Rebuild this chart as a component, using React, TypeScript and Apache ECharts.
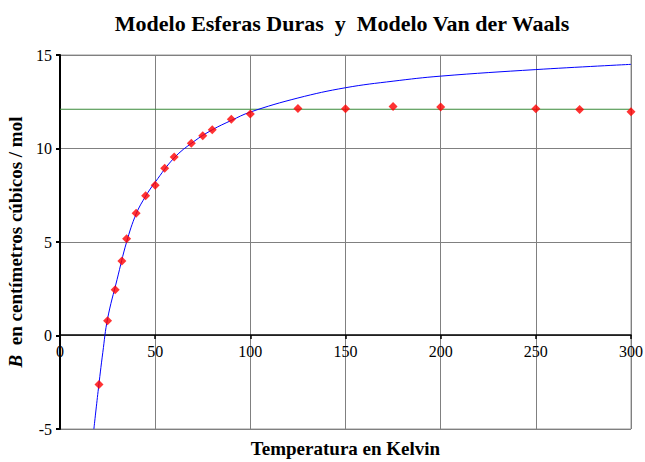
import React, { useEffect, useRef } from "react";
import * as echarts from "echarts";

const titleText = "Modelo Esferas Duras  y  Modelo Van der Waals";
const xAxisName = "Temperatura en Kelvin";
const yAxisUnit = "  en centímetros cúbicos / mol";

// Van der Waals curve (T in K, B in cm³/mol)
const vdwCurve: [number, number][] = [
  [17.8, -5.0], [20, -3.0], [22.5, -0.9], [25, 0.9], [30, 3.0], [35, 5.0],
  [40, 6.5], [45, 7.45], [50, 8.2], [60, 9.5], [70, 10.35], [80, 11.0],
  [90, 11.5], [100, 11.95], [125, 12.7], [150, 13.25], [175, 13.6],
  [200, 13.87], [250, 14.22], [300, 14.5],
];

// Hard-spheres model: constant line
const hardSpheres: [number, number][] = [[0, 12.1], [300, 12.1]];

// Red diamond data points
const dataPoints: [number, number][] = [
  [20.5, -2.62], [25, 0.79], [29, 2.45], [32.5, 3.98], [35, 5.17], [40, 6.54],
  [45, 7.47], [50, 8.04], [55, 8.95], [60, 9.54], [69, 10.28], [75, 10.68],
  [80, 11.0], [90, 11.57], [100, 11.84], [125, 12.14], [150, 12.12],
  [175, 12.24], [200, 12.22], [250, 12.12], [273, 12.08], [300, 11.97],
];

const serif = "'Liberation Serif', 'Times New Roman', serif";

export default function App() {
  const ref = useRef<HTMLDivElement>(null);
  useEffect(() => {
    if (!ref.current) return;
    const chart = echarts.init(ref.current, null, { renderer: "svg" });
    chart.setOption({
      animation: false,
      backgroundColor: "#ffffff",
      title: {
        text: titleText,
        left: 337,
        top: 7,
        textAlign: "center",
        textStyle: { fontFamily: serif, fontSize: 22, fontWeight: "bold", color: "#000" },
      },
      grid: {
        left: 60,
        right: 14,
        top: 55,
        bottom: 33,
        show: true,
        borderColor: "#999999",
        borderWidth: 1,
        outerBoundsMode: "none",
        containLabel: false,
      },
      xAxis: {
        type: "value",
        min: 0,
        max: 300,
        interval: 50,
        offset: -94,
        name: xAxisName,
        nameLocation: "middle",
        nameGap: 104,
        nameTextStyle: { fontFamily: serif, fontSize: 19, fontWeight: "bold", color: "#000" },
        axisLine: { onZero: false, lineStyle: { color: "#000", width: 1.5 } },
        axisTick: { show: true, inside: false, length: 4, lineStyle: { color: "#000", width: 1.5 } },
        axisLabel: { fontFamily: serif, fontSize: 16, color: "#000", margin: 8 },
        splitLine: { show: true, lineStyle: { color: "#808080", width: 1 } },
      },
      yAxis: {
        type: "value",
        min: -5,
        max: 15,
        interval: 5,
        name: "{b|B}{n|" + yAxisUnit + "}",
        nameLocation: "middle",
        nameRotate: 90,
        nameGap: 30,
        nameTextStyle: {
          rich: {
            b: { fontFamily: serif, fontSize: 19, fontWeight: "bold", fontStyle: "italic", color: "#000" },
            n: { fontFamily: serif, fontSize: 19, fontWeight: "bold", color: "#000" },
          },
        },
        axisLine: { show: true, onZero: false, lineStyle: { color: "#000", width: 2 } },
        axisTick: { show: true, inside: false, length: 4, lineStyle: { color: "#000", width: 2 } },
        axisLabel: { fontFamily: serif, fontSize: 16, color: "#000", margin: 8 },
        splitLine: { show: true, lineStyle: { color: "#808080", width: 1 } },
      },
      series: [
        {
          type: "line",
          data: hardSpheres,
          showSymbol: false,
          symbol: "none",
          lineStyle: { color: "#3a8a3a", width: 1.2 },
          z: 2,
        },
        {
          type: "line",
          data: vdwCurve,
          smooth: 0.4,
          showSymbol: false,
          symbol: "none",
          lineStyle: { color: "#0000ff", width: 1 },
          z: 3,
        },
        {
          type: "scatter",
          data: dataPoints,
          symbol: "diamond",
          symbolSize: [9, 9],
          itemStyle: { color: "#ff0000" },
          z: 4,
        },
      ],
    });
    return () => chart.dispose();
  }, []);
  return <div ref={ref} style={{ width: 645, height: 462, position: "absolute", left: 0, top: 0 }} />;
}
